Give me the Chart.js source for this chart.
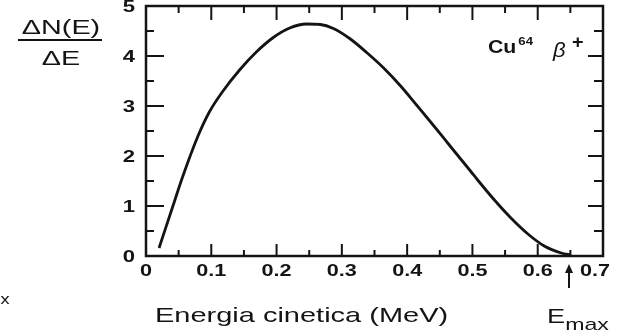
<!DOCTYPE html>
<html>
<head>
<meta charset="utf-8">
<script src="https://cdn.jsdelivr.net/npm/chart.js@4"></script>
<style>
  body { margin: 0; background: #fff; }
  #wrap { width: 629px; height: 330px; position: relative; }
</style>
</head>
<body>
<div id="wrap"><canvas id="spectrum"></canvas></div>
<script>
// Cu64 beta+ spectrum
var energy = [0.020, 0.041, 0.056, 0.079, 0.097, 0.118, 0.144, 0.169, 0.195, 0.220, 0.246,
              0.267, 0.287, 0.313, 0.338, 0.364, 0.390, 0.415, 0.441, 0.467, 0.482, 0.497,
              0.508, 0.533, 0.559, 0.585, 0.610, 0.636, 0.651];
var counts = [0.16, 0.99, 1.58, 2.38, 2.88, 3.30, 3.73, 4.08, 4.37, 4.56, 4.64,
              4.63, 4.55, 4.34, 4.07, 3.76, 3.40, 3.01, 2.60, 2.18, 1.94, 1.70,
              1.52, 1.13, 0.76, 0.44, 0.20, 0.06, 0.02];
var xTickLabels = ['0', '0.1', '0.2', '0.3', '0.4', '0.5', '0.6', '0.7'];
var yTickLabels = ['0', '1', '2', '3', '4', '5'];
var eMax = 0.651;

var ink = '#141414';
var fam = "'Liberation Sans', Arial, sans-serif";

function txt(ctx, s, x, y, font, sx, align, base) {
    ctx.save();
    ctx.font = font;
    ctx.textAlign = 'left';
    ctx.textBaseline = base || 'alphabetic';
    var w = ctx.measureText(s).width * sx;
    var left = x;
    if (align === 'center') left = x - w / 2;
    if (align === 'right') left = x - w;
    ctx.translate(left, y);
    ctx.scale(sx, 1);
    ctx.fillStyle = ink;
    ctx.fillText(s, 0, 0);
    ctx.restore();
    return w;
}

var decor = {
    id: 'decor',
    afterDraw: function(chart) {
        var ctx = chart.ctx;
        var xs = chart.scales.x;
        var ys = chart.scales.y;
        var a = chart.chartArea;
        ctx.save();
        ctx.strokeStyle = ink;
        ctx.lineWidth = 2.5;
        ctx.strokeRect(a.left, a.top, a.right - a.left, a.bottom - a.top);

        ctx.lineWidth = 2;
        function seg(x1, y1, x2, y2) {
            ctx.beginPath(); ctx.moveTo(x1, y1); ctx.lineTo(x2, y2); ctx.stroke();
        }
        // x ticks, pointing inward, top and bottom
        xs.ticks.forEach(function(t, i) {
            var px = xs.getPixelForValue(t.value);
            if (i > 0 && i < xs.ticks.length - 1) {
                seg(px, a.bottom, px, a.bottom - 12);
                seg(px, a.top, px, a.top + 14);
            }
            if (i < xs.ticks.length - 1) {
                var mx = xs.getPixelForValue((t.value + xs.ticks[i + 1].value) / 2);
                seg(mx, a.bottom, mx, a.bottom - 6);
                seg(mx, a.top, mx, a.top + 7);
            }
        });
        // y ticks, left and right
        ys.ticks.forEach(function(t, i) {
            var py = ys.getPixelForValue(t.value);
            if (i > 0 && i < ys.ticks.length - 1) {
                seg(a.left, py, a.left + 18, py);
                seg(a.right, py, a.right - 15, py);
            }
            if (i < ys.ticks.length - 1) {
                var my = ys.getPixelForValue((t.value + ys.ticks[i + 1].value) / 2);
                seg(a.left, my, a.left + 8, my);
                seg(a.right, my, a.right - 9, my);
            }
        });

        // tick labels
        xs.ticks.forEach(function(t, i) {
            var px = xs.getPixelForValue(t.value);
            if (i === xs.ticks.length - 1) px -= 8;
            txt(ctx, xTickLabels[i], px, 272, 'bold 16px ' + fam, 1.35, 'center', 'middle');
        });
        ys.ticks.forEach(function(t, i) {
            var py = ys.getPixelForValue(t.value);
            txt(ctx, yTickLabels[i], 135, py + 1, 'bold 17px ' + fam, 1.3, 'right', 'middle');
        });

        // E max arrow
        var ax = xs.getPixelForValue(eMax) - 2;
        ctx.lineWidth = 2;
        seg(ax, 288, ax, 270);
        ctx.fillStyle = ink;
        ctx.beginPath();
        ctx.moveTo(ax, 264); ctx.lineTo(ax - 4, 273); ctx.lineTo(ax + 4, 273); ctx.closePath();
        ctx.fill();

        // axis titles
        txt(ctx, 'Energia cinetica (MeV)', 155, 322, '21px ' + fam, 1.38, 'left');
        var ew = txt(ctx, 'E', 547, 323, '20px ' + fam, 1.36, 'left');
        txt(ctx, 'max', 547 + ew, 330, '17px ' + fam, 1.36, 'left');

        txt(ctx, '\u0394N(E)', 61, 34, '21px ' + fam, 1.37, 'center');
        ctx.lineWidth = 2;
        seg(18, 40, 102, 40);
        txt(ctx, '\u0394E', 61, 65, '21px ' + fam, 1.37, 'center');

        // isotope label
        var cw = txt(ctx, 'Cu', 488, 53, 'bold 19px ' + fam, 1.12, 'left');
        txt(ctx, '64', 488 + cw + 2, 45, 'bold 11px ' + fam, 1.2, 'left');
        txt(ctx, '\u03b2', 553, 57, 'italic 20px ' + fam, 1.1, 'left');
        txt(ctx, '+', 572, 48, 'bold 18px ' + fam, 1.1, 'left');

        txt(ctx, 'x', 5, 304, '14px ' + fam, 1.3, 'center');
        ctx.restore();
    }
};

var points = energy.map(function(e, i) { return { x: e, y: counts[i] }; });

new Chart(document.getElementById('spectrum'), {
    type: 'line',
    data: {
        datasets: [{
            data: points,
            borderColor: ink,
            borderWidth: 2.8,
            pointRadius: 0,
            fill: false,
            cubicInterpolationMode: 'monotone'
        }]
    },
    options: {
        responsive: true,
        maintainAspectRatio: false,
        animation: false,
        layout: { padding: { left: 0, top: 6, right: 26, bottom: 0 } },
        plugins: { legend: { display: false }, tooltip: { enabled: false } },
        scales: {
            x: {
                type: 'linear', min: 0, max: 0.7,
                ticks: { display: false, stepSize: 0.1 },
                grid: { display: false }, border: { display: false },
                afterFit: function(s) { s.height = 74; }
            },
            y: {
                min: 0, max: 5,
                ticks: { display: false, stepSize: 1 },
                grid: { display: false }, border: { display: false },
                afterFit: function(s) { s.width = 146; }
            }
        }
    },
    plugins: [decor]
});
</script>
</body>
</html>
